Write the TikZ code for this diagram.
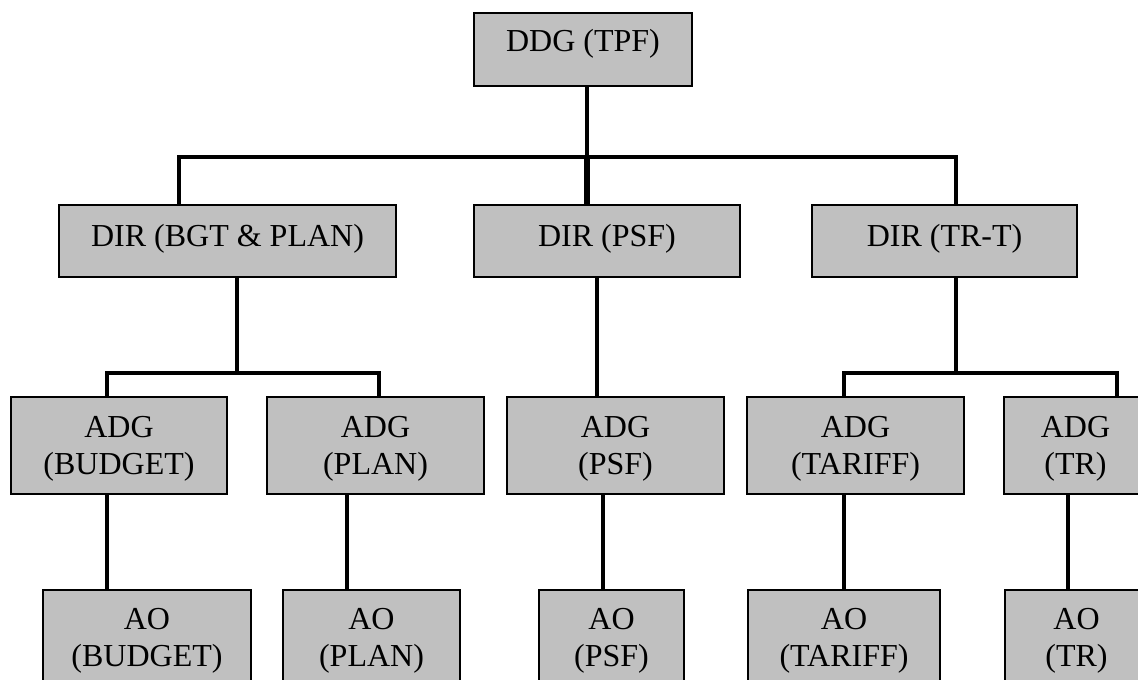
\documentclass[tikz,border=0pt]{standalone}
\usepackage{fontspec}
\setmainfont{Liberation Serif}
\usetikzlibrary{calc}
\definecolor{boxgray}{HTML}{C0C0C0}
\newcommand{\twoline}[2]{\vtop{\halign{\hfil##\hfil\cr #1\cr #2\cr}}}
\begin{document}
\begin{tikzpicture}[x=1pt,y=-1pt,
  box/.style={draw=black, fill=boxgray, line width=1.5pt, inner sep=0pt, rectangle},
  txt/.style={anchor=base, inner sep=0pt, font=\fontsize{32}{36.8}\selectfont},
  conn/.style={line width=3.5pt, line join=miter},
  thickconn/.style={line width=5.5pt}]
\useasboundingbox (0,0) rectangle (1138,680);
\clip (0,0) rectangle (1138,680);

% boxes
\node[box, minimum width=218, minimum height=73] (ddg) at (583,49.5) {};
\node[box, minimum width=337, minimum height=72] (dirA) at (227.5,241) {};
\node[box, minimum width=266, minimum height=72] (dirB) at (607,241) {};
\node[box, minimum width=265, minimum height=72] (dirC) at (944.5,241) {};
\node[box, minimum width=216, minimum height=97] (adgA) at (119,445.5) {};
\node[box, minimum width=217, minimum height=97] (adgB) at (375.5,445.5) {};
\node[box, minimum width=217, minimum height=97] (adgC) at (615.5,445.5) {};
\node[box, minimum width=217, minimum height=97] (adgD) at (855.5,445.5) {};
\node[box, minimum width=146, minimum height=97] (adgE) at (1077,445.5) {};
\node[box, minimum width=208, minimum height=110] (aoA) at (147,645) {};
\node[box, minimum width=177, minimum height=110] (aoB) at (371.5,645) {};
\node[box, minimum width=145, minimum height=110] (aoC) at (611.5,645) {};
\node[box, minimum width=192, minimum height=110] (aoD) at (844,645) {};
\node[box, minimum width=145, minimum height=110] (aoE) at (1077.5,645) {};

% texts
\node[txt] (tddg) at ($(ddg.north)+(0,39)$) {DDG (TPF)};
\node[txt] (tdirA) at ($(dirA.north)+(0,42)$) {DIR (BGT \& PLAN)};
\node[txt] (tdirB) at ($(dirB.north)+(0,42)$) {DIR (PSF)};
\node[txt] (tdirC) at ($(dirC.north)+(0,42)$) {DIR (TR-T)};
\node[txt] (tadgA) at ($(adgA.north)+(0,41)$) {\twoline{ADG}{(BUDGET)}};
\node[txt] (tadgB) at ($(adgB.north)+(0,41)$) {\twoline{ADG}{(PLAN)}};
\node[txt] (tadgC) at ($(adgC.north)+(0,41)$) {\twoline{ADG}{(PSF)}};
\node[txt] (tadgD) at ($(adgD.north)+(0,41)$) {\twoline{ADG}{(TARIFF)}};
\node[txt] (tadgE) at ($(adgE.north)+(-1.5,41)$) {\twoline{ADG}{(TR)}};
\node[txt] (taoA) at ($(aoA.north)+(0,40)$) {\twoline{AO}{(BUDGET)}};
\node[txt] (taoB) at ($(aoB.north)+(0,40)$) {\twoline{AO}{(PLAN)}};
\node[txt] (taoC) at ($(aoC.north)+(0,40)$) {\twoline{AO}{(PSF)}};
\node[txt] (taoD) at ($(aoD.north)+(0,40)$) {\twoline{AO}{(TARIFF)}};
\node[txt] (taoE) at ($(aoE.north)+(-1,40)$) {\twoline{AO}{(TR)}};

% level 1 bus
\coordinate (b1L) at (179,157);
\coordinate (b1M) at (587,157);
\coordinate (b1R) at (956,157);
\draw[conn] (ddg.south -| b1M) -- (b1M);
\draw[conn] (dirA.north -| b1L) -- (b1L) -- (b1R) -- (dirC.north -| b1R);
\draw[thickconn] (b1M) -- (dirB.north -| b1M);

% level 2 bus (left)
\coordinate (b2) at (237,373);
\coordinate (b2L) at (107,373);
\coordinate (b2R) at (379,373);
\draw[conn] (dirA.south -| b2) -- (b2);
\draw[conn] (adgA.north -| b2L) -- (b2L) -- (b2R) -- (adgB.north -| b2R);

% level 2 middle
\coordinate (vc) at (597,300);
\draw[conn] (dirB.south -| vc) -- (adgC.north -| vc);

% level 2 bus (right)
\coordinate (b3) at (956,373);
\coordinate (b3L) at (844,373);
\coordinate (b3R) at (1117,373);
\draw[conn] (dirC.south -| b3) -- (b3);
\draw[conn] (adgD.north -| b3L) -- (b3L) -- (b3R) -- (adgE.north -| b3R);

% level 3 drops
\coordinate (va) at (107,540);
\coordinate (vb) at (347,540);
\coordinate (vcc) at (603,540);
\coordinate (vd) at (844,540);
\coordinate (ve) at (1068,540);
\draw[conn] (adgA.south -| va) -- (aoA.north -| va);
\draw[conn] (adgB.south -| vb) -- (aoB.north -| vb);
\draw[conn] (adgC.south -| vcc) -- (aoC.north -| vcc);
\draw[conn] (adgD.south -| vd) -- (aoD.north -| vd);
\draw[conn] (adgE.south -| ve) -- (aoE.north -| ve);
\end{tikzpicture}
\end{document}
